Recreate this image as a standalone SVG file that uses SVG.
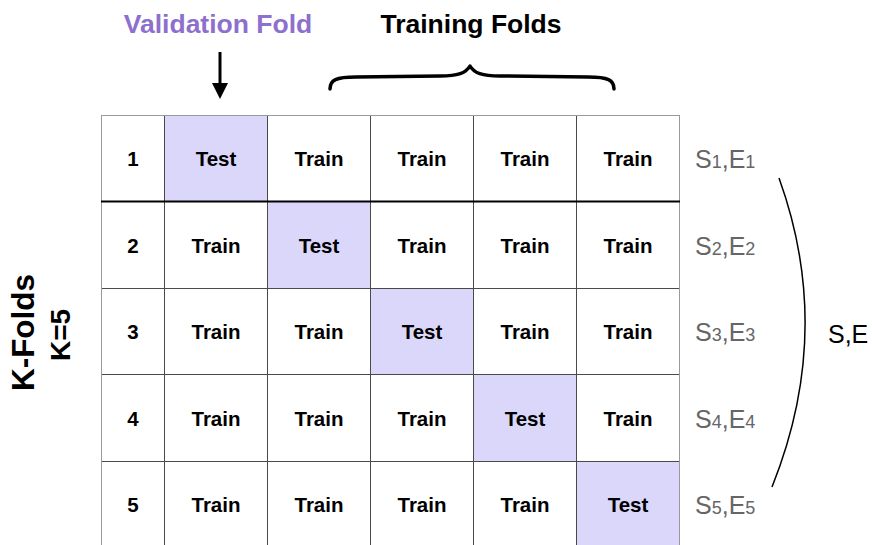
<svg xmlns="http://www.w3.org/2000/svg" width="872" height="545" viewBox="0 0 872 545">
<style>
  .cell { fill: #ffffff; stroke: #4a4a4a; stroke-width: 1; }
  .test { fill: #dbd7fb; stroke: #4a4a4a; stroke-width: 1; }
  .ct { font-family: "Liberation Sans", Arial, sans-serif; font-weight: bold; font-size: 20.5px; fill: #000; text-anchor: middle; }
  .num { font-family: "Liberation Sans", Arial, sans-serif; font-weight: bold; font-size: 20.5px; fill: #000; text-anchor: middle; }
  .se { font-family: "Liberation Sans", Arial, sans-serif; font-size: 25px; fill: #666666; }
  .sub { font-size: 18px; }
  .title { font-family: "Liberation Sans", Arial, sans-serif; font-weight: bold; font-size: 26.5px; text-anchor: middle; }
</style>
<rect x="0" y="0" width="872" height="545" fill="#ffffff"/>

<g id="title-validation"><text class="title" x="218" y="33" fill="#8e6fce">Validation Fold</text></g>
<g id="title-training"><text class="title" x="471" y="33" fill="#000">Training Folds</text></g>
<g id="kfolds-label">
  <text class="title" transform="translate(33.5,332.5) rotate(-90)" style="font-size:31.5px" fill="#000">K-Folds</text>
  <text class="title" transform="translate(70,335) rotate(-90)" style="font-size:28px" fill="#000">K=5</text>
</g>

<g id="row1">
  <rect class="cell" x="101.5" y="115.5" width="63" height="86"/><text class="num" x="133" y="166">1</text>
  <rect class="test" x="164.5" y="115.5" width="103" height="86"/><text class="ct" x="216" y="166">Test</text>
  <rect class="cell" x="267.5" y="115.5" width="103" height="86"/><text class="ct" x="319" y="166">Train</text>
  <rect class="cell" x="370.5" y="115.5" width="103" height="86"/><text class="ct" x="422" y="166">Train</text>
  <rect class="cell" x="473.5" y="115.5" width="103" height="86"/><text class="ct" x="525" y="166">Train</text>
  <rect class="cell" x="576.5" y="115.5" width="103" height="86"/><text class="ct" x="628" y="166">Train</text>
</g>
<g id="row2">
  <rect class="cell" x="101.5" y="201.5" width="63" height="87"/><text class="num" x="133" y="252.5">2</text>
  <rect class="cell" x="164.5" y="201.5" width="103" height="87"/><text class="ct" x="216" y="252.5">Train</text>
  <rect class="test" x="267.5" y="201.5" width="103" height="87"/><text class="ct" x="319" y="252.5">Test</text>
  <rect class="cell" x="370.5" y="201.5" width="103" height="87"/><text class="ct" x="422" y="252.5">Train</text>
  <rect class="cell" x="473.5" y="201.5" width="103" height="87"/><text class="ct" x="525" y="252.5">Train</text>
  <rect class="cell" x="576.5" y="201.5" width="103" height="87"/><text class="ct" x="628" y="252.5">Train</text>
</g>
<g id="row3">
  <rect class="cell" x="101.5" y="288.5" width="63" height="86"/><text class="num" x="133" y="339">3</text>
  <rect class="cell" x="164.5" y="288.5" width="103" height="86"/><text class="ct" x="216" y="339">Train</text>
  <rect class="cell" x="267.5" y="288.5" width="103" height="86"/><text class="ct" x="319" y="339">Train</text>
  <rect class="test" x="370.5" y="288.5" width="103" height="86"/><text class="ct" x="422" y="339">Test</text>
  <rect class="cell" x="473.5" y="288.5" width="103" height="86"/><text class="ct" x="525" y="339">Train</text>
  <rect class="cell" x="576.5" y="288.5" width="103" height="86"/><text class="ct" x="628" y="339">Train</text>
</g>
<g id="row4">
  <rect class="cell" x="101.5" y="374.5" width="63" height="87"/><text class="num" x="133" y="425.5">4</text>
  <rect class="cell" x="164.5" y="374.5" width="103" height="87"/><text class="ct" x="216" y="425.5">Train</text>
  <rect class="cell" x="267.5" y="374.5" width="103" height="87"/><text class="ct" x="319" y="425.5">Train</text>
  <rect class="cell" x="370.5" y="374.5" width="103" height="87"/><text class="ct" x="422" y="425.5">Train</text>
  <rect class="test" x="473.5" y="374.5" width="103" height="87"/><text class="ct" x="525" y="425.5">Test</text>
  <rect class="cell" x="576.5" y="374.5" width="103" height="87"/><text class="ct" x="628" y="425.5">Train</text>
</g>
<g id="row5">
  <rect class="cell" x="101.5" y="461.5" width="63" height="86"/><text class="num" x="133" y="512">5</text>
  <rect class="cell" x="164.5" y="461.5" width="103" height="86"/><text class="ct" x="216" y="512">Train</text>
  <rect class="cell" x="267.5" y="461.5" width="103" height="86"/><text class="ct" x="319" y="512">Train</text>
  <rect class="cell" x="370.5" y="461.5" width="103" height="86"/><text class="ct" x="422" y="512">Train</text>
  <rect class="cell" x="473.5" y="461.5" width="103" height="86"/><text class="ct" x="525" y="512">Train</text>
  <rect class="test" x="576.5" y="461.5" width="103" height="86"/><text class="ct" x="628" y="512">Test</text>
</g>
<g id="grid-border">
  <rect x="101.5" y="115.5" width="578" height="432" fill="none" stroke="#9a9a9a" stroke-width="1"/>
  <line x1="101" y1="201.5" x2="680" y2="201.5" stroke="#000" stroke-width="2"/>
</g>

<g id="scores">
  <text class="se" x="695" y="168">S<tspan class="sub">1</tspan>,E<tspan class="sub">1</tspan></text>
  <text class="se" x="695" y="254.5">S<tspan class="sub">2</tspan>,E<tspan class="sub">2</tspan></text>
  <text class="se" x="695" y="341">S<tspan class="sub">3</tspan>,E<tspan class="sub">3</tspan></text>
  <text class="se" x="695" y="427.5">S<tspan class="sub">4</tspan>,E<tspan class="sub">4</tspan></text>
  <text class="se" x="695" y="514">S<tspan class="sub">5</tspan>,E<tspan class="sub">5</tspan></text>
</g>
<g id="total"><text class="se" x="828" y="343" style="fill:#000">S,E</text></g>

<g id="connectors">
  <line x1="220" y1="52" x2="220" y2="86" stroke="#000" stroke-width="3"/>
  <polygon points="212,83 228,83 220,99" fill="#000"/>
  <path d="M330,89 C330,80 336,77 356,77 L440,76 C458,76 466,73 470,66 C474,73 482,76 500,76 L588,77 C608,77 614,80 614,89" fill="none" stroke="#000" stroke-width="3.5" stroke-linecap="round" stroke-linejoin="round"/>
  <path d="M779,178 Q834.5,331.5 772,487" fill="none" stroke="#000" stroke-width="1.5"/>
</g>
</svg>
